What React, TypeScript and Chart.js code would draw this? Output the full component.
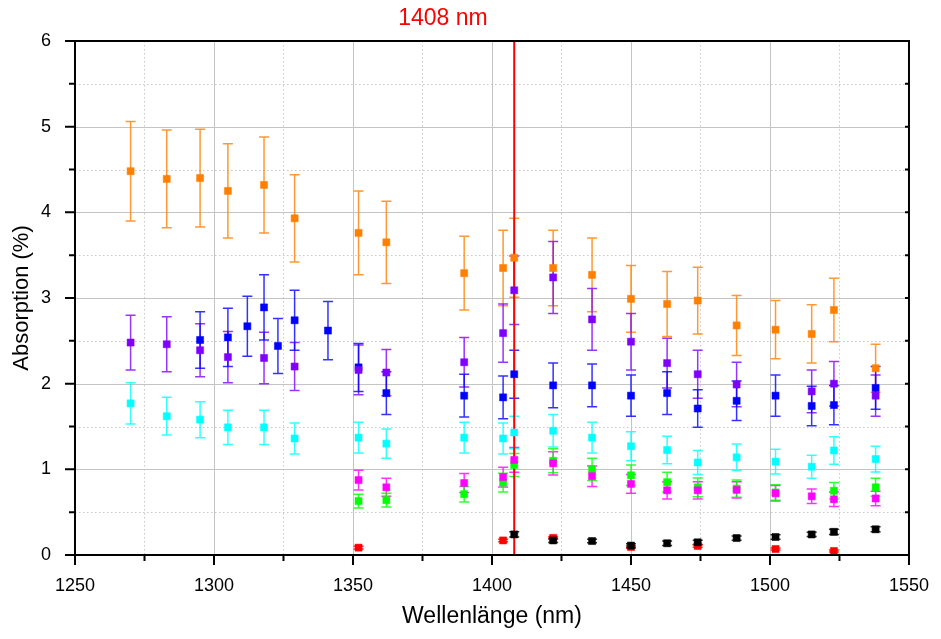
import React, { useEffect, useRef } from 'react';
import { Chart, registerables } from 'chart.js';

Chart.register(...registerables);

const FONT = "'Liberation Sans', Arial, Helvetica, sans-serif";

// ---- data (wavelength nm, absorption %, error ±) ----
const orangeX = [1270, 1283, 1295, 1305, 1318, 1329, 1352, 1362, 1390, 1404, 1408, 1422, 1436, 1450, 1463, 1474, 1488, 1502, 1515, 1523, 1538];
const orangeY = [4.48, 4.39, 4.40, 4.25, 4.32, 3.93, 3.76, 3.65, 3.29, 3.35, 3.47, 3.35, 3.27, 2.99, 2.93, 2.97, 2.68, 2.63, 2.58, 2.86, 2.18];
const orangeE = [0.58, 0.57, 0.57, 0.55, 0.56, 0.51, 0.49, 0.48, 0.43, 0.44, 0.46, 0.44, 0.43, 0.39, 0.38, 0.39, 0.35, 0.34, 0.34, 0.37, 0.28];

const purpleX = [1270, 1283, 1295, 1305, 1318, 1329, 1352, 1362, 1390, 1404, 1408, 1422, 1436, 1450, 1463, 1474, 1488, 1515, 1523, 1538];
const purpleY = [2.48, 2.46, 2.39, 2.31, 2.30, 2.20, 2.16, 2.13, 2.25, 2.59, 3.09, 3.24, 2.75, 2.49, 2.24, 2.11, 1.99, 1.91, 2.00, 1.86];
const purpleE = [0.32, 0.32, 0.31, 0.30, 0.30, 0.28, 0.29, 0.27, 0.29, 0.34, 0.40, 0.42, 0.36, 0.33, 0.29, 0.28, 0.26, 0.25, 0.26, 0.24];

const blueX = [1295, 1305, 1312, 1318, 1323, 1329, 1341, 1352, 1362, 1390, 1404, 1408, 1422, 1436, 1450, 1463, 1474, 1488, 1502, 1515, 1523, 1538];
const blueY = [2.51, 2.54, 2.67, 2.89, 2.44, 2.74, 2.62, 2.19, 1.89, 1.86, 1.84, 2.11, 1.98, 1.98, 1.86, 1.89, 1.71, 1.80, 1.86, 1.74, 1.75, 1.95];
const blueE = [0.33, 0.34, 0.35, 0.38, 0.32, 0.35, 0.34, 0.28, 0.25, 0.25, 0.25, 0.28, 0.26, 0.25, 0.24, 0.25, 0.22, 0.23, 0.24, 0.23, 0.23, 0.25];

const cyanX = [1270, 1283, 1295, 1305, 1318, 1329, 1352, 1362, 1390, 1404, 1408, 1422, 1436, 1450, 1463, 1474, 1488, 1502, 1515, 1523, 1538];
const cyanY = [1.77, 1.62, 1.58, 1.49, 1.49, 1.36, 1.37, 1.30, 1.37, 1.36, 1.43, 1.45, 1.37, 1.27, 1.225, 1.08, 1.14, 1.09, 1.03, 1.22, 1.12];
const cyanE = [0.24, 0.22, 0.21, 0.20, 0.20, 0.18, 0.18, 0.17, 0.18, 0.18, 0.19, 0.19, 0.18, 0.17, 0.16, 0.14, 0.155, 0.145, 0.135, 0.16, 0.15];

const magentaX = [1352, 1362, 1390, 1404, 1408, 1422, 1436, 1450, 1463, 1474, 1488, 1502, 1515, 1523, 1538];
const magentaY = [0.875, 0.79, 0.84, 0.91, 1.11, 1.07, 0.92, 0.83, 0.755, 0.755, 0.76, 0.72, 0.685, 0.65, 0.66];
const magentaE = [0.115, 0.105, 0.11, 0.115, 0.145, 0.135, 0.12, 0.11, 0.10, 0.10, 0.095, 0.09, 0.085, 0.085, 0.085];

const greenX = [1352, 1362, 1390, 1404, 1408, 1422, 1436, 1450, 1463, 1474, 1488, 1502, 1523, 1538];
const greenY = [0.63, 0.64, 0.71, 0.845, 1.05, 1.10, 1.00, 0.93, 0.85, 0.79, 0.775, 0.73, 0.75, 0.79];
const greenE = [0.08, 0.08, 0.09, 0.11, 0.135, 0.14, 0.13, 0.12, 0.115, 0.11, 0.10, 0.09, 0.095, 0.105];

const blackX = [1408, 1422, 1436, 1450, 1463, 1474, 1488, 1502, 1515, 1523, 1538];
const blackY = [0.24, 0.17, 0.163, 0.11, 0.137, 0.148, 0.198, 0.21, 0.24, 0.27, 0.30];
const blackE = [0.03, 0.025, 0.02, 0.02, 0.025, 0.025, 0.025, 0.025, 0.025, 0.03, 0.03];

const redX = [1352, 1404, 1422, 1450, 1474, 1502, 1523];
const redY = [0.086, 0.17, 0.20, 0.093, 0.105, 0.07, 0.047];
const redE = [0.015, 0.015, 0.015, 0.015, 0.015, 0.012, 0.012];

const markerWavelength = 1408;
const markerLabel = '1408 nm';
const xTitle = 'Wellenlänge (nm)';
const yTitle = 'Absorption (%)';

const seriesList = [
  { xs: orangeX, ys: orangeY, es: orangeE, color: '#FF8000', rgb: '255,128,0' },
  { xs: purpleX, ys: purpleY, es: purpleE, color: '#8000FF', rgb: '128,0,255' },
  { xs: blueX, ys: blueY, es: blueE, color: '#0000FF', rgb: '0,0,255' },
  { xs: magentaX, ys: magentaY, es: magentaE, color: '#FF00FF', rgb: '255,0,255' },
  { xs: cyanX, ys: cyanY, es: cyanE, color: '#00FFFF', rgb: '0,255,255' },
  { xs: greenX, ys: greenY, es: greenE, color: '#00FF00', rgb: '0,255,0' },
  { xs: blackX, ys: blackY, es: blackE, color: '#000000', rgb: '0,0,0' },
  { xs: redX, ys: redY, es: redE, color: '#FF0000', rgb: '255,0,0' },
];

const decorPlugin = {
  id: 'decor',
  beforeDatasetsDraw(chart: any) {
    const { ctx, chartArea: a, scales } = chart;
    const x = scales.x;
    const y = scales.y;
    ctx.save();
    // grid
    for (let v = 1275; v < 1550; v += 25) {
      const px = Math.round(x.getPixelForValue(v)) + 0.5;
      ctx.beginPath();
      if (v % 50 === 0) {
        ctx.setLineDash([]);
        ctx.strokeStyle = '#c4c4c4';
      } else {
        ctx.setLineDash([1.5, 2.5]);
        ctx.strokeStyle = '#c8c8c8';
      }
      ctx.lineWidth = 1;
      ctx.moveTo(px, a.top);
      ctx.lineTo(px, a.bottom);
      ctx.stroke();
    }
    for (let v = 0.5; v < 6; v += 0.5) {
      const py = Math.round(y.getPixelForValue(v)) + 0.5;
      ctx.beginPath();
      if (Math.abs(v - Math.round(v)) < 1e-6) {
        ctx.setLineDash([]);
        ctx.strokeStyle = '#c4c4c4';
      } else {
        ctx.setLineDash([1.5, 2.5]);
        ctx.strokeStyle = '#c8c8c8';
      }
      ctx.lineWidth = 1;
      ctx.moveTo(a.left, py);
      ctx.lineTo(a.right, py);
      ctx.stroke();
    }
    ctx.setLineDash([]);
    // error bars
    chart.data.datasets.forEach((ds: any) => {
      ctx.strokeStyle = ds.errColor;
      ctx.lineWidth = 1.5;
      ds.data.forEach((p: any) => {
        const px = x.getPixelForValue(p.x);
        const top = y.getPixelForValue(p.y + p.e);
        const bot = y.getPixelForValue(p.y - p.e);
        ctx.beginPath();
        ctx.moveTo(px, top);
        ctx.lineTo(px, bot);
        ctx.moveTo(px - 5, top);
        ctx.lineTo(px + 5, top);
        ctx.moveTo(px - 5, bot);
        ctx.lineTo(px + 5, bot);
        ctx.stroke();
      });
    });
    // marker line
    const mx = x.getPixelForValue(markerWavelength);
    ctx.strokeStyle = '#FF0000';
    ctx.lineWidth = 2;
    ctx.beginPath();
    ctx.moveTo(mx, a.top);
    ctx.lineTo(mx, a.bottom);
    ctx.stroke();
    ctx.restore();
  },
  afterDatasetsDraw(chart: any) {
    const { ctx, chartArea: a, scales } = chart;
    const x = scales.x;
    const y = scales.y;
    ctx.save();
    ctx.strokeStyle = '#000';
    ctx.lineWidth = 2;
    ctx.strokeRect(a.left, a.top, a.right - a.left, a.bottom - a.top);
    ctx.beginPath();
    for (let v = 1250; v <= 1550; v += 25) {
      const px = x.getPixelForValue(v);
      const len = v % 50 === 0 ? 10 : 6;
      ctx.moveTo(px, a.bottom);
      ctx.lineTo(px, a.bottom + len);
    }
    for (let v = 0; v <= 6.001; v += 0.5) {
      const py = y.getPixelForValue(v);
      const len = Math.abs(v - Math.round(v)) < 1e-6 ? 10 : 6;
      ctx.moveTo(a.left, py);
      ctx.lineTo(a.left - len, py);
      ctx.moveTo(a.right, py);
      ctx.lineTo(a.right - 4, py);
    }
    ctx.stroke();
    // titles
    ctx.fillStyle = '#000';
    ctx.textAlign = 'center';
    ctx.textBaseline = 'middle';
    ctx.font = `23px ${FONT}`;
    ctx.fillText(xTitle, (a.left + a.right) / 2, 617);
    ctx.font = `22px ${FONT}`;
    ctx.save();
    ctx.translate(22, (a.top + a.bottom) / 2);
    ctx.rotate(-Math.PI / 2);
    ctx.fillText(yTitle, 0, 0);
    ctx.restore();
    ctx.fillStyle = '#FF0000';
    ctx.font = `23px ${FONT}`;
    ctx.fillText(markerLabel, 443, 19);
    ctx.restore();
  },
};

export default function App() {
  const canvasRef = useRef<HTMLCanvasElement | null>(null);

  useEffect(() => {
    if (!canvasRef.current) return;
    const datasets = seriesList.map((s) => ({
      data: s.xs.map((xv, i) => ({ x: xv, y: s.ys[i], e: s.es[i] })),
      backgroundColor: s.color,
      borderColor: `rgba(${s.rgb},0.5)`,
      borderWidth: 1,
      pointStyle: 'rect',
      pointRadius: 5,
      pointHoverRadius: 5,
      showLine: false,
      errColor: `rgba(${s.rgb},0.8)`,
    }));
    const chart = new Chart(canvasRef.current, {
      type: 'scatter',
      data: { datasets: datasets as any },
      options: {
        animation: false,
        responsive: true,
        maintainAspectRatio: false,
        layout: { padding: { left: 0, top: 41, right: 29, bottom: 0 } },
        plugins: { legend: { display: false }, tooltip: { enabled: false } },
        scales: {
          x: {
            type: 'linear',
            min: 1250,
            max: 1550,
            afterFit: (s: any) => { s.height = 84; },
            grid: { display: false },
            border: { display: false },
            ticks: {
              stepSize: 50,
              padding: 12,
              color: '#000',
              font: { family: FONT, size: 18 },
              maxRotation: 0,
              callback: (v: any) => String(v),
            },
          },
          y: {
            type: 'linear',
            min: 0,
            max: 6,
            afterFit: (s: any) => { s.width = 75; },
            grid: { display: false },
            border: { display: false },
            ticks: {
              stepSize: 1,
              padding: 16,
              color: '#000',
              font: { family: FONT, size: 18 },
              callback: (v: any) => String(v),
            },
          },
        },
      },
      plugins: [decorPlugin],
    });
    return () => chart.destroy();
  }, []);

  return (
    <div style={{ position: 'fixed', left: 0, top: 0, width: 941, height: 639, background: '#fff' }}>
      <canvas ref={canvasRef} />
    </div>
  );
}
